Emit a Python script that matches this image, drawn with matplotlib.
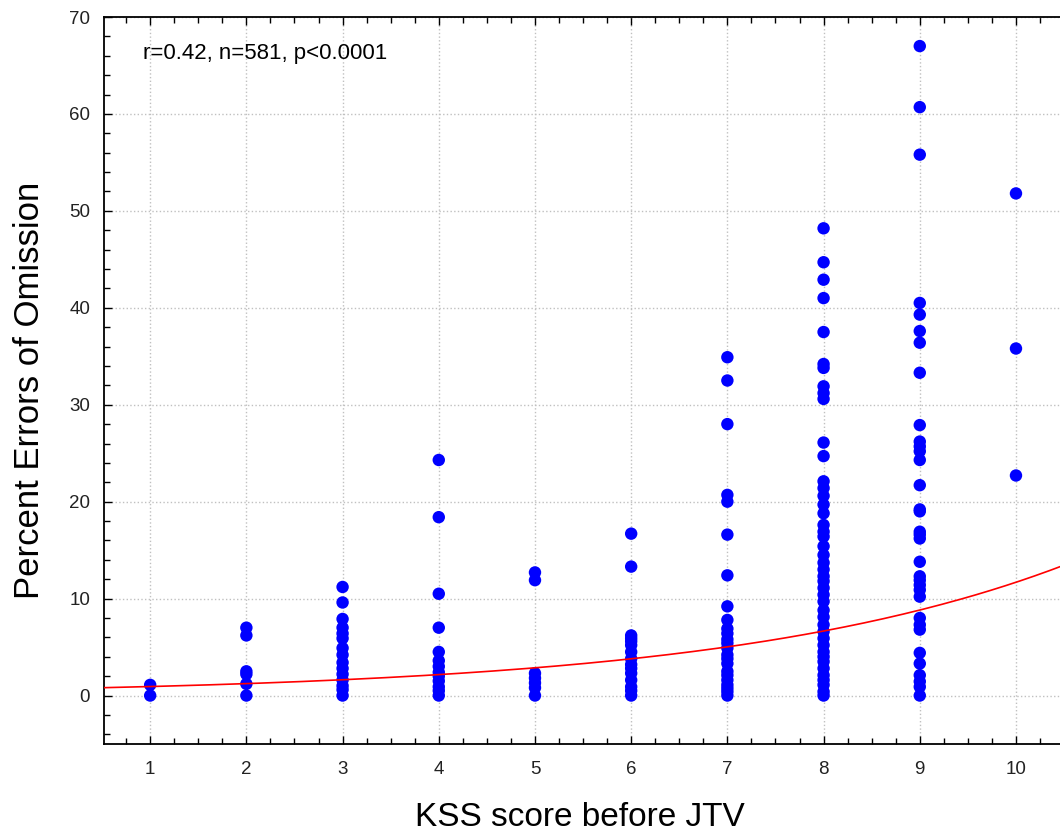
import matplotlib.pyplot as plt
import numpy as np
from matplotlib.ticker import MultipleLocator

plt.rcParams['font.family'] = ['Liberation Sans', 'DejaVu Sans']

# KSS score (x) and percent errors of omission (y), read column by column
kss1 = [0, 1.1]
kss2 = [0, 1.2, 2.2, 2.5, 6.2, 7.0]
kss3 = [0, 0.6, 1.0, 1.6, 2.2, 2.8, 3.4, 4.2, 4.9, 5.9, 6.4, 7.0, 7.9, 9.6, 11.2]
kss4 = [0, 0.5, 0.9, 1.5, 2.0, 2.4, 3.0, 3.6, 4.5, 7.0, 10.5, 18.4, 24.3]
kss5 = [0, 0.8, 1.3, 1.8, 2.3, 11.9, 12.7]
kss6 = [0, 0.5, 0.9, 1.6, 2.3, 2.8, 3.2, 3.8, 4.5, 5.2, 5.6, 5.9, 6.2, 13.3, 16.7]
kss7 = [0, 0.4, 0.75, 1.1, 1.6, 2.1, 2.5, 3.3, 3.8, 4.2, 4.9, 5.4, 5.8, 6.4,
        6.9, 7.8, 9.2, 12.4, 16.6, 20.0, 20.7, 28.0, 32.5, 34.9]
kss8 = [0, 0.4, 1.1, 1.6, 2.1, 2.8, 3.5, 4.0, 4.5, 5.2, 5.9, 6.6, 7.3, 8.1,
        8.8, 9.7, 10.4, 11.1, 11.8, 12.3, 13.0, 13.7, 14.5, 15.4, 16.4, 16.9,
        17.6, 18.8, 19.7, 20.6, 21.4, 22.1, 24.7, 26.1, 30.6, 31.2, 31.9,
        33.8, 34.2, 37.5, 41.0, 42.9, 44.7, 48.2]
kss9 = [0, 0.9, 1.45, 2.1, 3.3, 4.4, 6.8, 7.3, 8.0, 10.2, 10.9, 11.4, 11.9,
        12.3, 13.8, 16.2, 16.6, 16.9, 19.0, 19.2, 21.7, 24.3, 25.2, 25.7,
        26.2, 27.9, 33.3, 36.4, 37.6, 39.3, 40.5, 55.8, 60.7, 67.0]
kss10 = [22.7, 35.8, 51.8]
columns = [kss1, kss2, kss3, kss4, kss5, kss6, kss7, kss8, kss9, kss10]

# exponential fit y = a * exp(b * x)
fit_a = 0.70
fit_b = 0.2815

xs = np.concatenate([np.full(len(c), i + 1) for i, c in enumerate(columns)])
ys = np.concatenate([np.array(c, dtype=float) for c in columns])

fig = plt.figure(figsize=(10.6, 8.35), dpi=100)
ax = fig.add_axes([104 / 1060, 1 - 744 / 835, 962 / 1060, 727 / 835])

ax.scatter(xs, ys, s=80, color='#0000ff', edgecolors='none', zorder=3)

xf = np.linspace(0.5, 10.6, 200)
ax.plot(xf, fit_a * np.exp(fit_b * xf), color='#ff0000', lw=1.2, zorder=4)

ax.set_xlim(0.52, 10.52)
ax.set_ylim(-5, 70)
ax.xaxis.set_major_locator(MultipleLocator(1))
ax.xaxis.set_minor_locator(MultipleLocator(0.25))
ax.yaxis.set_major_locator(MultipleLocator(10))
ax.yaxis.set_minor_locator(MultipleLocator(2))
ax.tick_params(which='both', direction='in', top=True, right=False,
               labelsize=13.5, colors='black', width=1)
ax.tick_params(which='major', length=6, pad=12)
ax.tick_params(which='minor', length=4)
ax.tick_params(axis='y', pad=10)
for lbl in ax.get_xticklabels() + ax.get_yticklabels():
    lbl.set_color('#222222')

ax.grid(True, which='major', color='#c0c0c0', linestyle=':', linewidth=1)
ax.set_axisbelow(True)
ax.spines['right'].set_visible(False)
for s in ['left', 'bottom', 'top']:
    ax.spines[s].set_linewidth(1.3)

ax.text(143 / 1060, 1 - 53 / 835, 'r=0.42, n=581, p<0.0001', transform=fig.transFigure,
        fontsize=16, va='center', ha='left')

fig.text(580 / 1060, 1 - 818 / 835, 'KSS score before JTV', fontsize=24,
         ha='center', va='center')
fig.text(30 / 1060, 1 - 390 / 835, 'Percent Errors of Omission', fontsize=25,
         ha='center', va='center', rotation=90)

fig.savefig('out.png', dpi=100)
